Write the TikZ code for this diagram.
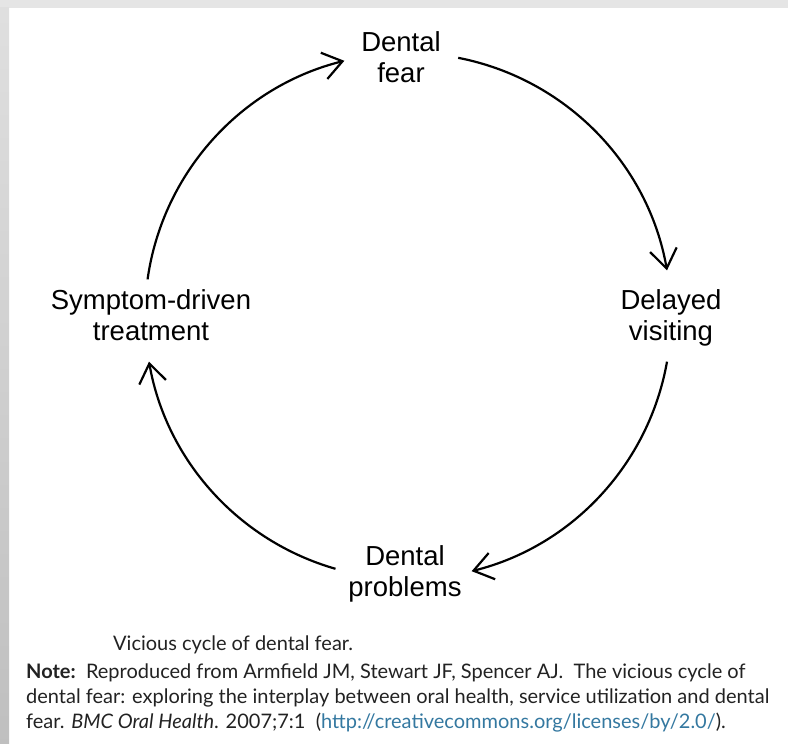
\documentclass[tikz,border=0pt]{standalone}
\usepackage{fontspec}
\setmainfont{Liberation Sans}
\newfontfamily\notefont{Lato}
\usetikzlibrary{arrows.meta, calc}
\definecolor{linkblue}{RGB}{52,120,160}
\definecolor{notegray}{RGB}{34,34,34}
\tikzset{
  stage/.style={align=center, anchor=base, font=\fontsize{27.5}{31}\selectfont},
  arrow/.style={-{Straight Barb[length=19pt, width=27pt, line width=2.2pt]}, line width=2.2pt},
  note/.style={anchor=base west, inner sep=0pt, text=notegray,
               font=\notefont\fontsize{20}{25}\selectfont},
}
\begin{document}
\begin{tikzpicture}[x=1pt, y=1pt]
  \useasboundingbox (0,0) rectangle (788,744);
  \fill[gray!20] (0,736) rectangle (788,744);
  \shade[top color=gray!25, bottom color=gray!50] (0,0) rectangle (9,736);

  \coordinate (hub) at (408,428);
  \node[stage] (fear) at (401,661) {Dental\\fear};
  \node[stage] (delay) at (671,403) {Delayed\\visiting};
  \node[stage] (problems) at (405,147) {Dental\\problems};
  \node[stage] (treat) at (151,403) {Symptom-driven\\treatment};

  \draw[arrow] ($(hub)+(79:263)$) arc[start angle=79, end angle=10, radius=263];
  \draw[arrow] ($(hub)+(-10:263)$) arc[start angle=-10, end angle=-76, radius=263];
  \draw[arrow] ($(hub)+(-106:263)$) arc[start angle=-106, end angle=-170, radius=263];
  \draw[arrow] ($(hub)+(172:263)$) arc[start angle=172, end angle=104, radius=263];

  \node[note] (caption) at (113,93) {Vicious cycle of dental fear.};
  \node[note] (note1) at (26,65) {\textbf{Note:}\ \ Reproduced from Armfield JM, Stewart JF, Spencer AJ.\ \ The vicious cycle of};
  \node[note] (note2) at (26,40) {dental fear: exploring the interplay between oral health, service utilization and dental};
  \node[note] (note3) at (26,15) {fear. \textit{BMC Oral Health}. 2007;7:1\ \ (\textcolor{linkblue}{http://creativecommons.org/licenses/by/2.0/}).};
\end{tikzpicture}
\end{document}
